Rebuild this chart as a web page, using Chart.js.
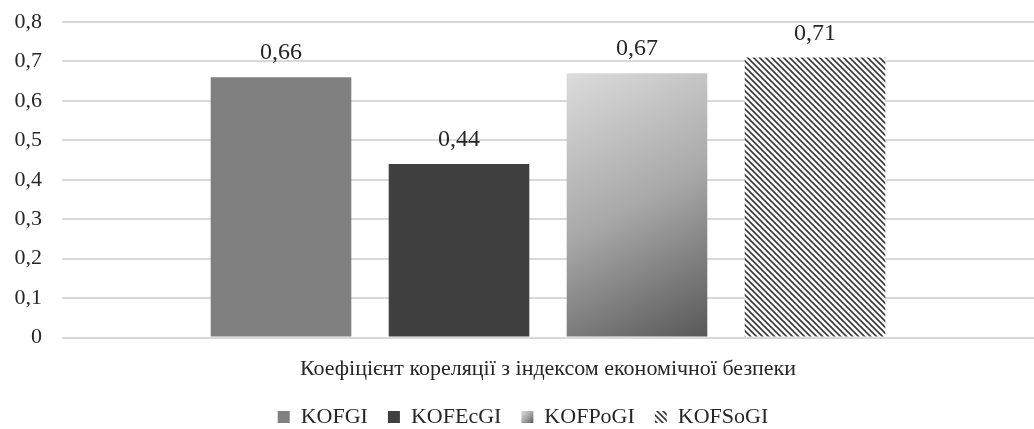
<!DOCTYPE html>
<html lang="uk">
<head>
<meta charset="UTF-8">
<title>KOF correlation</title>
<script src="https://cdn.jsdelivr.net/npm/chart.js@4.4.0/dist/chart.umd.min.js"></script>
<style>
  html, body { margin: 0; padding: 0; background: #fff; }
  #wrap { width: 1034px; height: 429px; }
</style>
</head>
<body>
<div id="wrap"><canvas id="canvas" width="1034" height="429"></canvas></div>
<script>
// data
var categories = ['Коефіцієнт кореляції з індексом економічної безпеки'];
var seriesNames = ['KOFGI', 'KOFEcGI', 'KOFPoGI', 'KOFSoGI'];
var seriesValues = [[0.66], [0.44], [0.67], [0.71]];
var yTicks = [0, 0.1, 0.2, 0.3, 0.4, 0.5, 0.6, 0.7, 0.8];

var FONT = '"Liberation Serif", "Times New Roman", serif';
var FS = 22;

// diagonal hatch for the last series
function hatch() {
  var c = document.createElement('canvas');
  c.width = 6; c.height = 6;
  var g = c.getContext('2d');
  g.fillStyle = '#ffffff';
  g.fillRect(0, 0, 6, 6);
  g.strokeStyle = '#3a3a3a';
  g.lineWidth = 1.6;
  g.beginPath();
  g.moveTo(-1, -1); g.lineTo(7, 7);
  g.moveTo(-4, 2); g.lineTo(4, 10);
  g.moveTo(2, -4); g.lineTo(10, 4);
  g.stroke();
  return g.createPattern(c, 'repeat');
}

function fmt(v) {
  if (v === 0) return '0';
  return v.toFixed(Math.round(v * 100) % 10 === 0 ? 1 : 2).replace('.', ',');
}

function diagGrad(ctx, x0, y0, x1, y1) {
  var gr = ctx.createLinearGradient(x0, y0, x1, y1);
  gr.addColorStop(0, '#dcdcdc');
  gr.addColorStop(0.5, '#a8a8a8');
  gr.addColorStop(1, '#585858');
  return gr;
}

var colors = ['#808080', '#404040', '#b0b0b0', hatch()];

// gradient bar + legend box, and value labels
var extras = {
  id: 'extras',
  beforeDraw: function(chart) {
    var lg = chart.legend;
    if (lg && lg.legendHitBoxes && lg.legendHitBoxes[2]) {
      var hb = lg.legendHitBoxes[2];
      var bw = lg.options.labels.boxWidth;
      var top = hb.top + (hb.height - bw) / 2;
      lg.legendItems[2].fillStyle = diagGrad(chart.ctx, hb.left, top, hb.left + bw, top + bw);
    }
  },
  beforeDatasetDraw: function(chart, args) {
    if (args.index !== 2) return;
    var meta = chart.getDatasetMeta(2);
    meta.data.forEach(function(el) {
      var l = el.x - el.width / 2, r = el.x + el.width / 2;
      el.options.backgroundColor = diagGrad(chart.ctx, l, el.y, r, el.base);
    });
  },
  afterDatasetsDraw: function(chart) {
    var ctx = chart.ctx;
    ctx.save();
    ctx.font = '24px ' + FONT;
    ctx.fillStyle = '#262626';
    ctx.textAlign = 'center';
    ctx.textBaseline = 'alphabetic';
    chart.data.datasets.forEach(function(ds, i) {
      chart.getDatasetMeta(i).data.forEach(function(el, j) {
        ctx.fillText(fmt(ds.data[j]), el.x, el.y - 18);
      });
    });
    ctx.restore();
  }
};

var datasets = seriesNames.map(function(name, i) {
  return {
    label: name,
    data: seriesValues[i],
    backgroundColor: colors[i],
    borderWidth: 0,
    categoryPercentage: 0.7325,
    barPercentage: 0.79
  };
});

new Chart(document.getElementById('canvas').getContext('2d'), {
  type: 'bar',
  data: { labels: categories, datasets: datasets },
  plugins: [extras],
  options: {
    responsive: false,
    animation: false,
    layout: { padding: { left: 12, right: 0, top: 22, bottom: -9 } },
    plugins: {
      tooltip: { enabled: false },
      legend: {
        position: 'bottom',
        labels: {
          boxWidth: 12,
          boxHeight: 12,
          padding: 20,
          color: '#262626',
          font: { family: FONT, size: FS, lineHeight: 0.75 }
        }
      }
    },
    scales: {
      x: {
        grid: { display: false },
        border: { display: false },
        ticks: { color: '#262626', padding: 10, font: { family: FONT, size: FS } },
        afterFit: function(s) { s.height -= 6; }
      },
      y: {
        min: 0,
        max: 0.8,
        afterBuildTicks: function(axis) {
          axis.ticks = yTicks.map(function(v) { return { value: v }; });
        },
        afterFit: function(s) { s.width = 50; s.paddingTop = 0; },
        grid: { color: '#d9d9d9', lineWidth: 2, drawTicks: false },
        border: { display: false },
        ticks: {
          color: '#262626',
          padding: 20,
          font: { family: FONT, size: FS },
          callback: function(v) { return fmt(v); }
        }
      }
    }
  }
});
</script>
</body>
</html>
